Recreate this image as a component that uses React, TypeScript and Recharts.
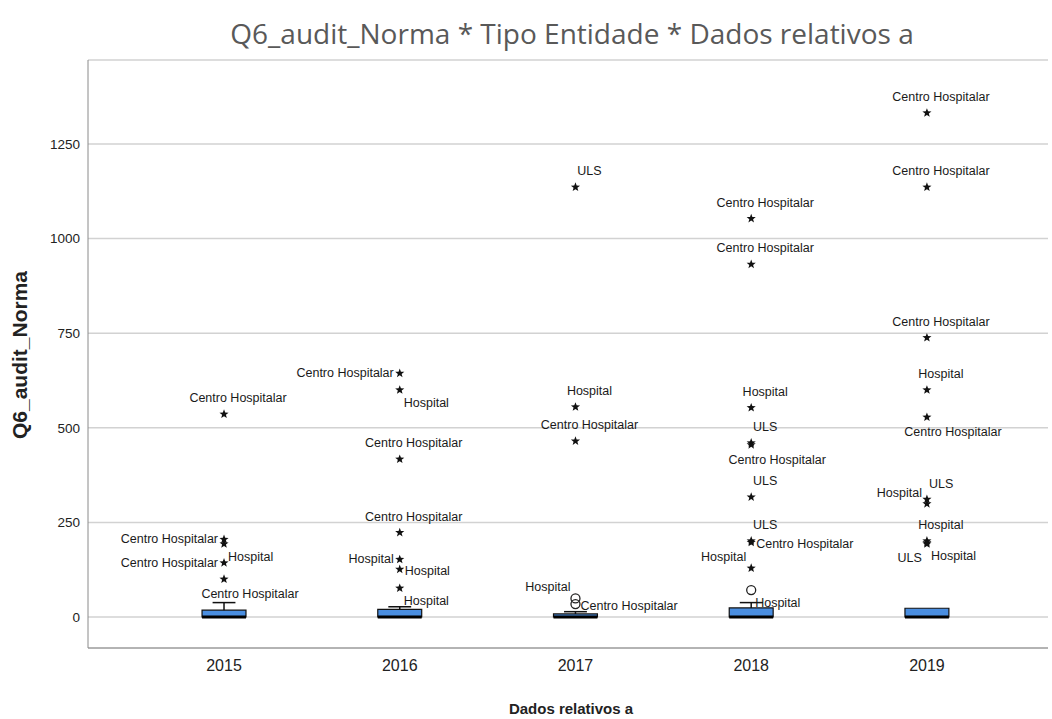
import { ComposedChart, Scatter, XAxis, YAxis, CartesianGrid, ReferenceArea, ReferenceLine } from 'recharts'

// boxes per year
const years = [2015, 2016, 2017, 2018, 2019]
const boxLow = [0, 0, 0, 0, 0]
const boxMedian = [0, 0, 0, 0, 0]
const boxHigh = [18, 20, 8, 24, 23]
const whiskerHigh = [38, 27, 14, 38, 23]

// outliers: star = extreme, circle = outlier
const outlierYears = [
  2015, 2015, 2015, 2015, 2015,
  2016, 2016, 2016, 2016, 2016, 2016, 2016,
  2017, 2017, 2017, 2017, 2017,
  2018, 2018, 2018, 2018, 2018, 2018, 2018, 2018, 2018, 2018,
  2019, 2019, 2019, 2019, 2019, 2019, 2019, 2019, 2019, 2019,
]
const outlierValues = [
  536, 205, 193, 143, 100,
  644, 600, 417, 223, 152, 126, 76,
  1136, 555, 465, 49, 34,
  1053, 932, 553, 460, 455, 317, 201, 197, 129, 71,
  1332, 1136, 738, 600, 528, 311, 299, 201, 196, 193,
]
const outlierMarks = [
  'star', 'star', 'star', 'star', 'star',
  'star', 'star', 'star', 'star', 'star', 'star', 'star',
  'star', 'star', 'star', 'circle', 'circle',
  'star', 'star', 'star', 'star', 'star', 'star', 'star', 'star', 'star', 'circle',
  'star', 'star', 'star', 'star', 'star', 'star', 'star', 'star', 'star', 'star',
]
const CH = 'Centro Hospitalar'
const outlierNames = [
  CH, CH, 'Hospital', CH, CH,
  CH, 'Hospital', CH, CH, 'Hospital', 'Hospital', 'Hospital',
  'ULS', 'Hospital', CH, 'Hospital', CH,
  CH, CH, 'Hospital', 'ULS', CH, 'ULS', 'ULS', CH, 'Hospital', 'Hospital',
  CH, CH, CH, 'Hospital', CH, 'ULS', 'Hospital', 'Hospital', 'Hospital', 'ULS',
]
// where each label sits around its marker
const labelSides = [
  'above', 'left', 'belowRight', 'left', 'below',
  'left', 'belowRight', 'above', 'above', 'left', 'right', 'belowRight',
  'above', 'above', 'above', 'aboveLeft', 'right',
  'above', 'above', 'above', 'above', 'below', 'above', 'above', 'right', 'aboveLeft', 'belowRight',
  'above', 'above', 'above', 'above', 'below', 'aboveRight', 'aboveLeft', 'above', 'belowRight', 'belowLeft',
]

const yTicks = [0, 250, 500, 750, 1000, 1250]

const FONT = '"Liberation Sans", Arial, sans-serif'
const BOX_HALF = 0.125
const CAP_HALF = 0.065

const sideOffsets: Record<string, [number, number, 'start' | 'middle' | 'end']> = {
  above: [14, -16, 'middle'],
  below: [26, 15, 'middle'],
  left: [-6, 0, 'end'],
  right: [5, 2, 'start'],
  belowRight: [4, 13, 'start'],
  aboveLeft: [-5, -11, 'end'],
  aboveRight: [2, -15, 'start'],
  belowLeft: [-5, 14, 'end'],
}

const outliers = outlierValues.map((v, i) => ({
  x: outlierYears[i],
  y: v,
  mark: outlierMarks[i],
  name: outlierNames[i],
  side: labelSides[i],
}))

function starPoints(cx: number, cy: number, ro: number, ri: number) {
  const pts: string[] = []
  for (let k = 0; k < 10; k++) {
    const r = k % 2 === 0 ? ro : ri
    const a = -Math.PI / 2 + (k * Math.PI) / 5
    pts.push(`${cx + r * Math.cos(a)},${cy + r * Math.sin(a)}`)
  }
  return pts.join(' ')
}

function OutlierShape(props: any) {
  const { cx, cy, payload } = props
  if (cx == null || cy == null) return null
  const [dx, dy, anchor] = sideOffsets[payload.side] ?? sideOffsets.above
  return (
    <g>
      {payload.mark === 'star' ? (
        <polygon points={starPoints(cx, cy, 4.8, 2)} fill="#111" />
      ) : (
        <circle cx={cx} cy={cy} r={4.5} fill="none" stroke="#222" strokeWidth={1.3} />
      )}
      <text
        x={cx + dx}
        y={cy + dy}
        textAnchor={anchor}
        dominantBaseline="central"
        fontSize={12.5}
        fontFamily={FONT}
        fill="#1a1a1a"
      >
        {payload.name}
      </text>
    </g>
  )
}

export default function App() {
  return (
    <div style={{ position: 'absolute', left: 0, top: 0, width: 1052, height: 719, background: '#fff' }}>
      <div
        style={{
          position: 'absolute', left: 572, top: 33, transform: 'translate(-50%, -50%)',
          fontFamily: '"Open Sans", sans-serif', fontSize: 28, color: '#595959', whiteSpace: 'nowrap',
        }}
      >
        Q6_audit_Norma * Tipo Entidade * Dados relativos a
      </div>
      <div
        style={{
          position: 'absolute', left: 20, top: 355, transform: 'translate(-50%, -50%) rotate(-90deg)',
          fontFamily: FONT, fontSize: 21, fontWeight: 'bold', color: '#222', whiteSpace: 'nowrap',
        }}
      >
        Q6_audit_Norma
      </div>
      <div
        style={{
          position: 'absolute', left: 571, top: 708, transform: 'translate(-50%, -50%)',
          fontFamily: FONT, fontSize: 15, fontWeight: 'bold', color: '#222', whiteSpace: 'nowrap',
        }}
      >
        Dados relativos a
      </div>
      <ComposedChart width={1052} height={719} margin={{ top: 60, right: 4, bottom: 0, left: 0 }}>
        <CartesianGrid vertical={false} stroke="#d2d2d2" strokeWidth={1.5} />
        <XAxis
          type="number"
          dataKey="x"
          domain={[2014.226, 2019.689]}
          ticks={years}
          allowDataOverflow
          height={71}
          tickLine={false}
          tickMargin={6}
          axisLine={{ stroke: '#8a8a8a' }}
          tick={{ fontSize: 16, fill: '#222', fontFamily: FONT }}
        />
        <YAxis
          type="number"
          dataKey="y"
          domain={[-82, 1472]}
          ticks={yTicks}
          allowDataOverflow
          width={88}
          tickLine={false}
          tickMargin={2}
          axisLine={{ stroke: '#8a8a8a' }}
          tick={{ fontSize: 13.5, fill: '#222', fontFamily: FONT }}
        />
        {years.map((yr, i) => (
          <ReferenceLine
            key={`wv${yr}`}
            segment={[{ x: yr, y: boxHigh[i] }, { x: yr, y: whiskerHigh[i] }]}
            stroke="#111"
            strokeWidth={1.5}
          />
        ))}
        {years.map((yr, i) =>
          whiskerHigh[i] > boxHigh[i] ? (
            <ReferenceLine
              key={`wc${yr}`}
              segment={[{ x: yr - CAP_HALF, y: whiskerHigh[i] }, { x: yr + CAP_HALF, y: whiskerHigh[i] }]}
              stroke="#111"
              strokeWidth={1.5}
            />
          ) : null
        )}
        {years.map((yr, i) => (
          <ReferenceArea
            key={`b${yr}`}
            x1={yr - BOX_HALF}
            x2={yr + BOX_HALF}
            y1={boxLow[i]}
            y2={boxHigh[i]}
            fill="#4a8ee0"
            fillOpacity={1}
            stroke="#111"
            strokeWidth={1.2}
          />
        ))}
        {years.map((yr, i) => (
          <ReferenceLine
            key={`m${yr}`}
            segment={[{ x: yr - BOX_HALF, y: boxMedian[i] }, { x: yr + BOX_HALF, y: boxMedian[i] }]}
            stroke="#000"
            strokeWidth={3}
          />
        ))}
        <Scatter data={outliers} shape={OutlierShape} isAnimationActive={false} />
      </ComposedChart>
    </div>
  )
}
